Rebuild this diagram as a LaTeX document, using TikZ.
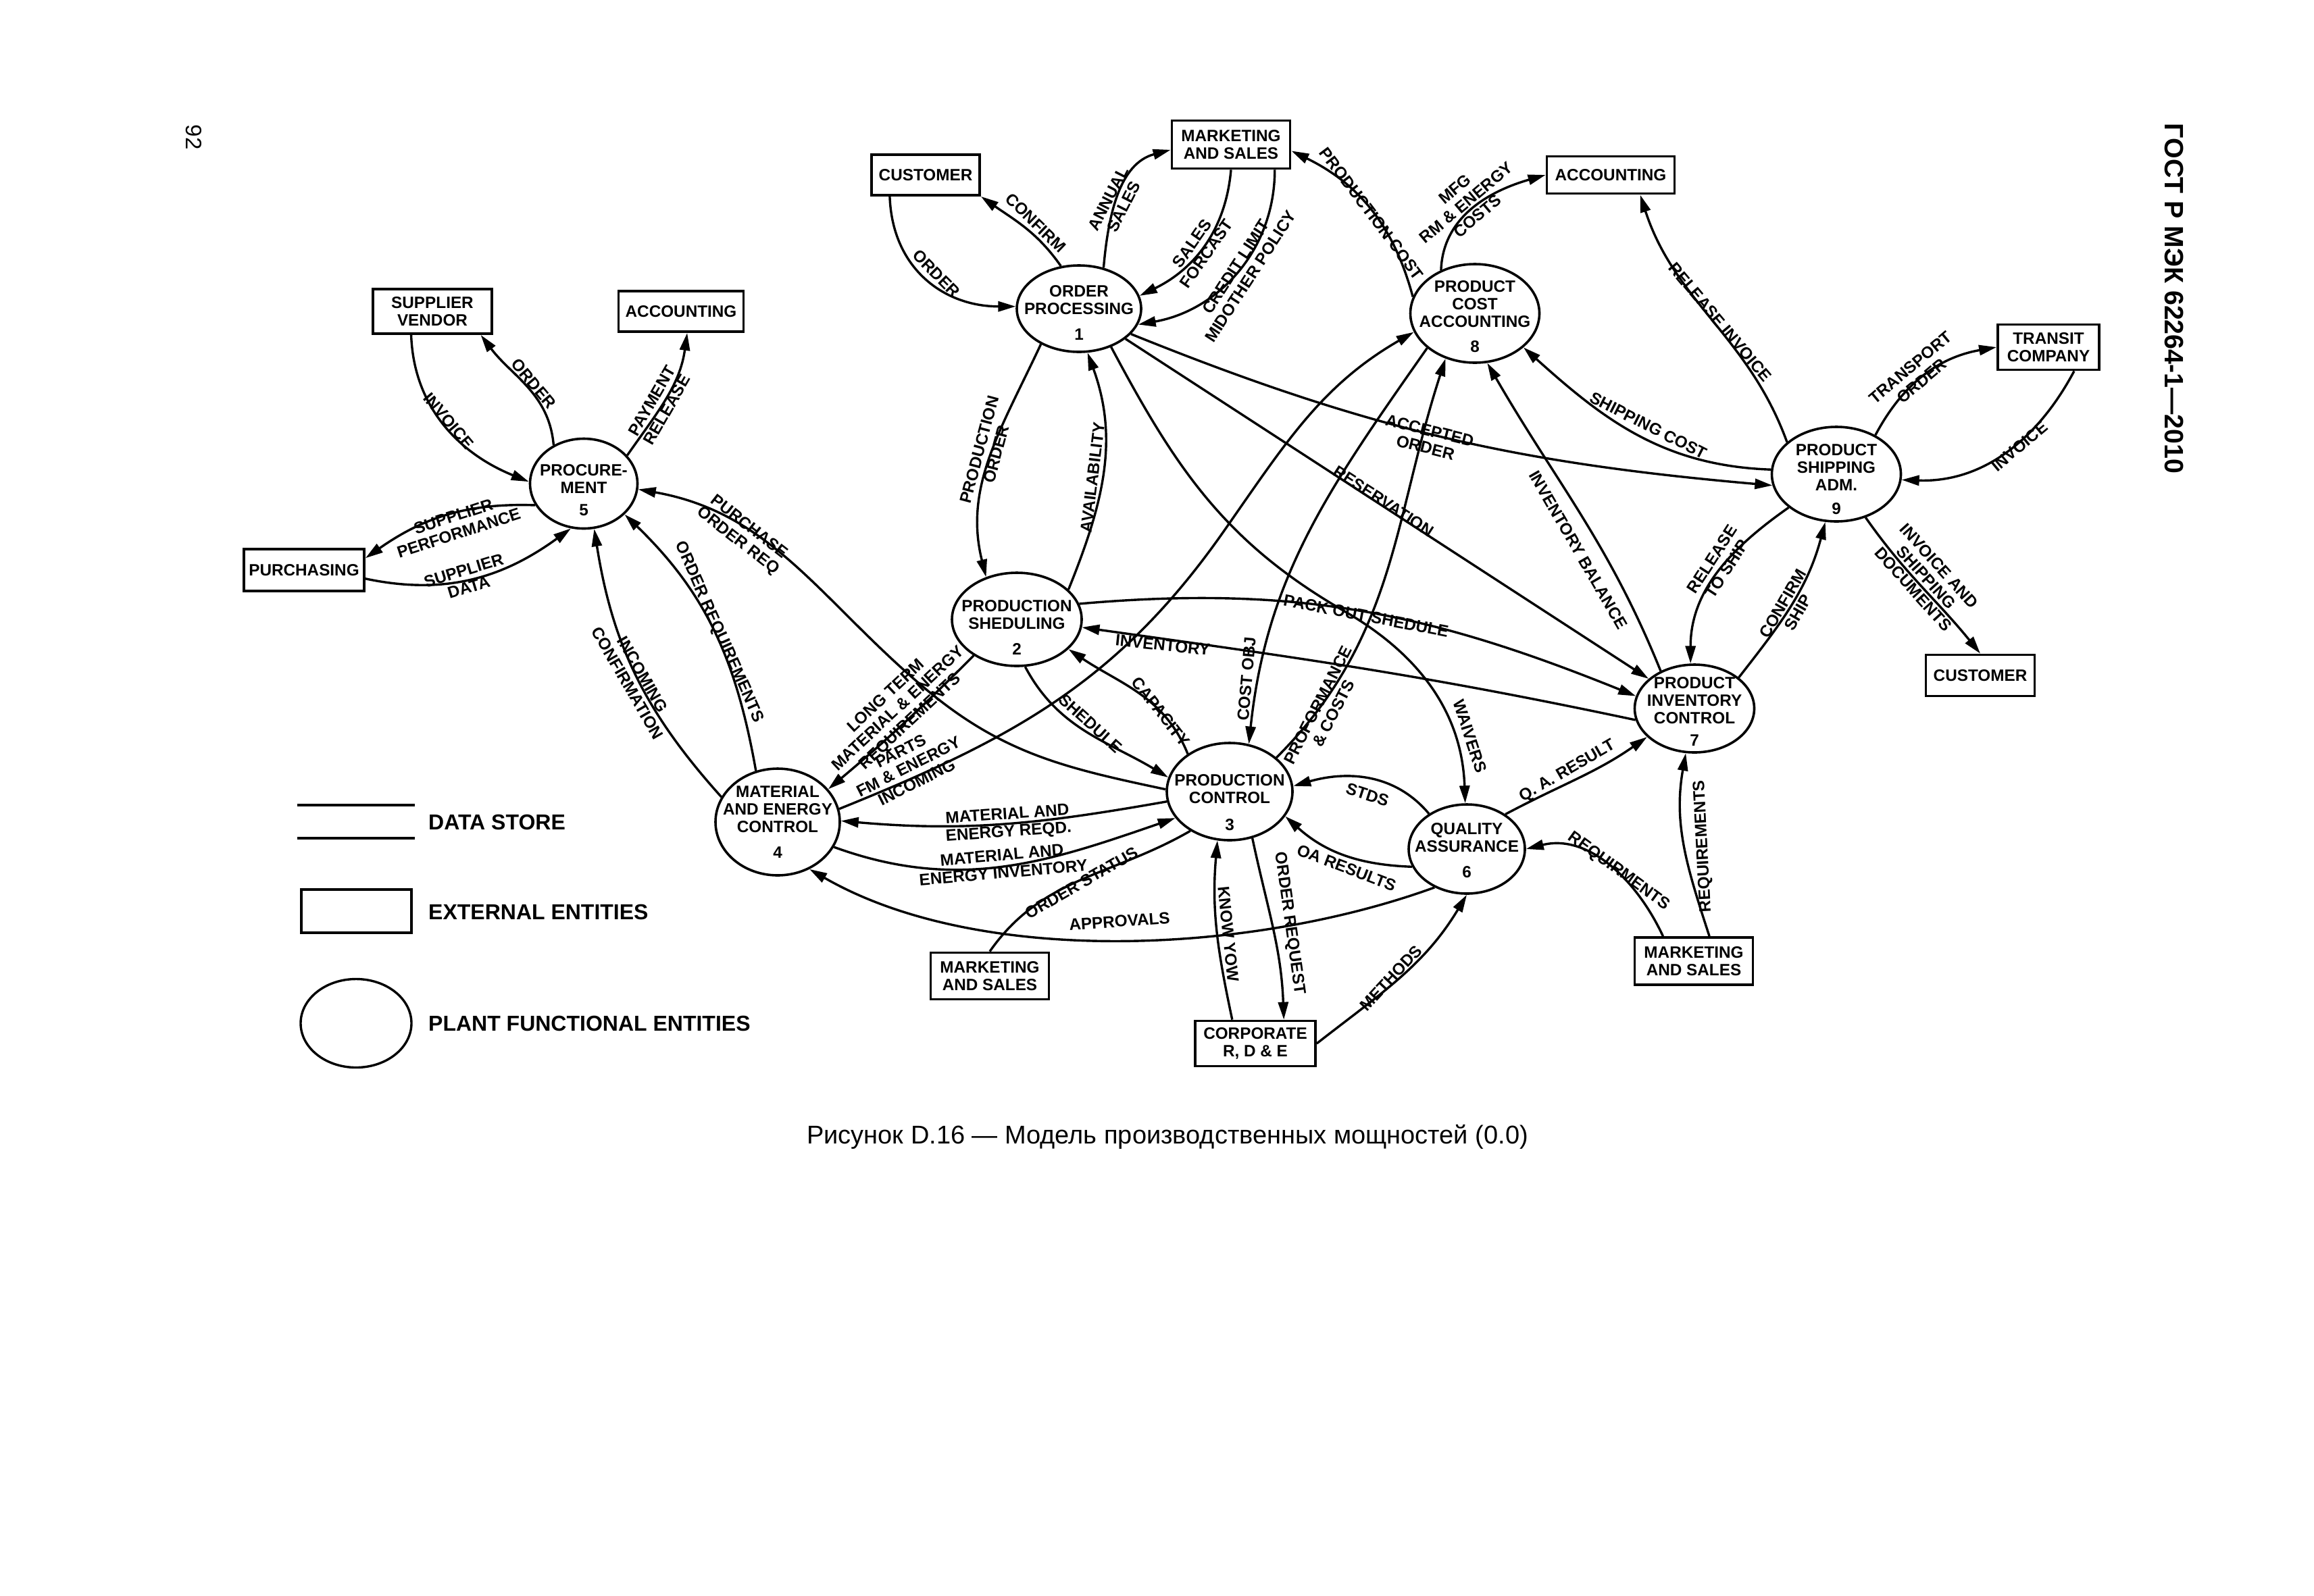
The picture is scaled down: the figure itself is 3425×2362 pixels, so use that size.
\documentclass[tikz,border=0pt]{standalone}
\usepackage{fontspec}
\setmainfont{Liberation Sans}
\usetikzlibrary{shapes.geometric, arrows.meta}

\newcommand{\dfdfont}{\fontsize{24.3}{26}\selectfont\bfseries}
\newcommand{\legfont}{\fontsize{32}{36}\selectfont\bfseries}
\newcommand{\hdrfont}{\fontsize{39.3}{42}\selectfont\bfseries}
\newcommand{\capfont}{\fontsize{38}{42}\selectfont}
\newcommand{\pgnofont}{\fontsize{33}{36}\selectfont}

\tikzset{
  proc/.style={ellipse, draw, line width=3.6pt, inner sep=0pt},
  ptext/.style={font=\dfdfont, align=center, inner sep=0pt},
  ext/.style={rectangle, draw, line width=3.8pt, inner sep=0pt, align=center, font=\dfdfont},
  flow/.style={line width=3.4pt, -{Triangle[length=26pt,width=15pt]}},
  link/.style={line width=3.4pt},
  lbl/.style={font=\dfdfont, align=center, inner sep=0pt},
  legtext/.style={font=\legfont, anchor=west, inner sep=0pt},
}

\begin{document}
\begin{tikzpicture}[x=1pt, y=-1pt]
    \path[use as bounding box, fill=white] (0,0) rectangle (3425,2362);

    % external entities
    \node[ext, minimum width=160pt, minimum height=60pt] (custA) at (1370,259) {CUSTOMER};
    \node[ext, minimum width=175pt, minimum height=71pt] (mktA) at (1822,214) {MARKETING\\AND SALES};
    \node[ext, minimum width=189pt, minimum height=55pt] (accA) at (2384,259) {ACCOUNTING};
    \node[ext, minimum width=176pt, minimum height=66pt] (supp) at (640,461) {SUPPLIER\\VENDOR};
    \node[ext, minimum width=185pt, minimum height=60pt] (accB) at (1008,461) {ACCOUNTING};
    \node[ext, minimum width=178pt, minimum height=62pt] (purch) at (450,844) {PURCHASING};
    \node[ext, minimum width=150pt, minimum height=67pt] (transit) at (3032,514) {TRANSIT\\COMPANY};
    \node[ext, minimum width=161pt, minimum height=61pt] (custB) at (2931,1000) {CUSTOMER};
    \node[ext, minimum width=175pt, minimum height=69pt] (mktB) at (1465,1445) {MARKETING\\AND SALES};
    \node[ext, minimum width=178pt, minimum height=67pt] (corp) at (1858,1545) {CORPORATE\\R, D \& E};
    \node[ext, minimum width=175pt, minimum height=70pt] (mktC) at (2507,1423) {MARKETING\\AND SALES};

    % plant functional entities
    \node[proc, minimum width=184pt, minimum height=128pt, label={[ptext,yshift=-6pt]center:{ORDER\\PROCESSING\\[12pt]1}}] (p1) at (1597,457) {};
    \node[proc, minimum width=192pt, minimum height=138pt, label={[ptext,yshift=-12pt]center:{PRODUCTION\\SHEDULING\\[12pt]2}}] (p2) at (1505,917) {};
    \node[proc, minimum width=186pt, minimum height=144pt, label={[ptext,yshift=-16pt]center:{PRODUCTION\\CONTROL\\[14pt]3}}] (p3) at (1820,1172) {};
    \node[proc, minimum width=184pt, minimum height=158pt, label={[ptext]center:{MATERIAL\\AND ENERGY\\CONTROL\\[12pt]4}}] (p4) at (1151,1217) {};
    \node[proc, minimum width=159pt, minimum height=133pt, label={[ptext,yshift=-10pt]center:{PROCURE-\\MENT\\[7pt]5}}] (p5) at (864,716) {};
    \node[proc, minimum width=172pt, minimum height=132pt, label={[ptext,yshift=-2pt]center:{QUALITY\\ASSURANCE\\[12pt]6}}] (p6) at (2171,1257) {};
    \node[proc, minimum width=177pt, minimum height=130pt, label={[ptext,yshift=-4pt]center:{PRODUCT\\INVENTORY\\CONTROL\\[7pt]7}}] (p7) at (2508,1049) {};
    \node[proc, minimum width=191pt, minimum height=146pt, label={[ptext,yshift=-5pt]center:{PRODUCT\\COST\\ACCOUNTING\\[11pt]8}}] (p8) at (2183,464) {};
    \node[proc, minimum width=191pt, minimum height=140pt, label={[ptext,yshift=-8pt]center:{PRODUCT\\SHIPPING\\ADM.\\[9pt]9}}] (p9) at (2718,702) {};

    % order processing
    \draw[flow] (custA.211) to[out=-88, in=180, looseness=1.1] (p1.178)
        node[lbl, rotate=-45] (tOrdA) at (1386,405) {ORDER};
    \draw[flow] (p1.113) to[out=125, in=-35] (custA.south east)
        node[lbl, rotate=-44] (tConf) at (1533,330) {CONFIRM};
    \draw[flow] (p1.59) to[out=85, in=195] (mktA.185)
        node[lbl, rotate=63] (tAnn) at (1652,300) {ANNUAL\\SALES};
    \draw[flow] (mktA.south) to[out=-95, in=26] (p1.12)
        node[lbl, rotate=55] (tFcst) at (1775,368) {SALES\\FORCAST};
    \draw[flow] (mktA.-30) to[out=-90, in=10] (p1.-15)
        node[lbl, rotate=57] (tCred) at (1840,402) {CREDIT LIMIT\\MIDOTHER POLICY};

    % cost accounting and shipping
    \draw[flow] (p8.165) to[out=105, in=-26] (mktA.-6)
        node[lbl, rotate=-53] (tPCost) at (2030,316) {PRODUCTION COST};
    \draw[flow] (p8.128) to[out=88, in=196] (accA.west)
        node[lbl, rotate=40] (tMfg) at (2170,300) {MFG\\RM \& ENERGY\\COSTS};
    \draw[flow] (p9.147) to[out=110, in=-72] (accA.-34)
        node[lbl, rotate=-50] (tRelInv) at (2546,477) {RELEASE INVOICE};
    \draw[flow] (p9.45) to[out=62, in=190] (transit.west)
        node[lbl, rotate=40] (tTrans) at (2836,554) {TRANSPORT\\ORDER};
    \draw[flow] (transit.-43) to[out=-118, in=-2] (p9.-5)
        node[lbl, rotate=40] (tInvB) at (2989,661) {INVOICE};
    \draw[flow] (p9.-56) to[out=-55, in=129] (custB.north)
        node[lbl, rotate=-48] (tDocs) at (2851,855) {INVOICE AND\\SHIPPING\\DOCUMENTS};

    % procurement
    \draw[flow] (supp.228) to[out=-88, in=158] (p5.178)
        node[lbl, rotate=-50] (tInvA) at (664,623) {INVOICE};
    \draw[flow] (p5.128) to[out=95, in=-53] (supp.-26)
        node[lbl, rotate=-50] (tOrdB) at (790,568) {ORDER};
    \draw[flow] (p5.33) to[out=55, in=-98] (accB.-74)
        node[lbl, rotate=60] (tPay) at (976,600) {PAYMENT\\RELEASE};
    \draw[flow] (p5.204) to[out=178, in=35] (purch.11)
        node[lbl, rotate=18] (tPerf) at (675,777) {SUPPLIER\\PERFORMANCE};
    \draw[flow] (purch.-8) to[out=-12, in=216] (p5.254)
        node[lbl, rotate=17] (tData) at (690,857) {SUPPLIER\\DATA};
    \draw[flow] (p4.156) to[out=132, in=-81] (p5.-77)
        node[lbl, rotate=-60] (tIncConf) at (940,1005) {INCOMING\\CONFIRMATION};
    \draw[flow] (p4.113) to[out=100, in=-44] (p5.-37)
        node[lbl, rotate=-66] (tOrdReq) at (1064,936) {ORDER REQUIREMENTS};
    \draw[flow] (p3.178) to[out=168, in=-40] (1370,1020) to[out=140, in=-10] (p5.-6)
        node[lbl, rotate=-38] (tPurch) at (1100,791) {PURCHASE\\ORDER REQ};

    % scheduling and inventory
    \draw[flow] (p1.223) to[out=245, in=104] (p2.126)
        node[lbl, rotate=75] (tProdOrd) at (1462,669) {PRODUCTION\\ORDER};
    \draw[flow] (p2.30) to[out=68, in=-70] (p1.-79)
        node[lbl, rotate=83] (tAvail) at (1617,707) {AVAILABILITY};
    \draw[flow] (p1.-33) -- (p7.147)
        node[lbl, rotate=-33] (tRes) at (2048,742) {RESERVATION};
    \draw[flow] (p1.-26) to[out=-22, in=175] (p9.190)
        node[lbl, rotate=-14] (tAcc) at (2113,650) {ACCEPTED\\ORDER};
    \draw[flow] (p1.-50) to[out=-62, in=150] (1990,905) to[out=-30, in=92] (p6.92)
        node[lbl, rotate=-72] (tWaiv) at (2176,1090) {WAIVERS};
    \draw[flow] (p2.14) to[out=5, in=158] (p7.168)
        node[lbl, rotate=-11] (tPack) at (2022,912) {PACK OUT SHEDULE};
    \draw[flow] (p7.191) to[out=168, in=-8] (p2.-7)
        node[lbl, rotate=-6] (tInv) at (1721,955) {INVENTORY};
    \draw[flow] (p7.132) to[out=112, in=-60] (p8.-76)
        node[lbl, rotate=-60] (tInvBal) at (2336,814) {INVENTORY BALANCE};
    \draw[flow] (p9.176) to[out=178, in=-42] (p8.-35)
        node[lbl, rotate=-27] (tShip) at (2440,630) {SHIPPING COST};
    \draw[flow] (p9.215) to[out=215, in=90] (p7.95)
        node[lbl, rotate=57] (tRel) at (2545,835) {RELEASE\\TO SHIP};
    \draw[flow] (p7.35) to[out=52, in=-105] (p9.257)
        node[lbl, rotate=60] (tConfShip) at (2650,900) {CONFIRM\\SHIP};

    % production control
    \draw[flow] (p8.216) to[out=235, in=84] (p3.68)
        node[lbl, rotate=85] (tCostObj) at (1845,1005) {COST OBJ};
    \draw[flow] (p3.36) to[out=45, in=-108] (p8.237)
        node[lbl, rotate=63] (tProf) at (1962,1050) {PROFORMANCE\\\& COSTS};
    \draw[flow] (p2.-80) to[out=-62, in=149] (p3.167)
        node[lbl, rotate=-42] (tShed) at (1614,1071) {SHEDULE};
    \draw[flow] (p3.138) to[out=112, in=-34] (p2.-30)
        node[lbl, rotate=-52] (tCap) at (1718,1054) {CAPACITY};
    \draw[flow] (p2.220) to[out=225, in=40] (p4.33)
        node[lbl, rotate=43] (tLong) at (1330,1050) {LONG TERM\\MATERIAL \& ENERGY\\REQUIREMENTS};
    \draw[flow] (p4.12) to[out=22, in=235] (1811,787) to[out=55, in=210] (p8.197)
        node[lbl, rotate=27] (tParts) at (1345,1135) {PARTS\\FM \& ENERGY\\INCOMING};
    \draw[flow] (p3.189) to[out=190, in=-5] (p4.1)
        node[lbl, rotate=4] (tMatReq) at (1492,1220) {MATERIAL AND\\ENERGY REQD.};
    \draw[flow] (p4.-24) to[out=-20, in=199] (p3.206)
        node[lbl, rotate=5] (tMatInv) at (1484,1279) {MATERIAL AND\\ENERGY INVENTORY};
    \draw[link] (mktB.north) to[out=55, in=210] (p3.225)
        node[lbl, rotate=30] (tStat) at (1601,1307) {ORDER STATUS};
    \draw[flow] (p6.230) to[out=200, in=-30, looseness=0.8] (p4.-56)
        node[lbl, rotate=4] (tAppr) at (1657,1364) {APPROVALS};
    \draw[flow] (corp.134) to[out=102, in=-95] (p3.256)
        node[lbl, rotate=-84] (tKnow) at (1818,1383) {KNOW YOW};
    \draw[flow] (p3.-64) to[out=-78, in=92] (corp.40)
        node[lbl, rotate=-82] (tOrdRq) at (1908,1367) {ORDER REQUEST};

    % quality assurance
    \draw[flow] (corp.east) to[out=38, in=-121] (p6.-90)
        node[lbl, rotate=47] (tMeth) at (2059,1448) {METHODS};
    \draw[flow] (p6.137) to[out=130, in=16] (p3.5)
        node[lbl, rotate=-18] (tStds) at (2024,1177) {STDS};
    \draw[flow] (p6.198) to[out=178, in=-42] (p3.-24)
        node[lbl, rotate=-21] (tOA) at (1993,1285) {OA RESULTS};
    \draw[flow] (p6.42) to[out=28, in=215] (p7.211)
        node[lbl, rotate=30] (tQA) at (2320,1142) {Q. A. RESULT};
    \draw[flow] (mktC.141) to[out=115, in=14] (p6.0)
        node[lbl, rotate=-36] (tReqA) at (2396,1290) {REQUIRMENTS};
    \draw[flow] (mktC.58) to[out=108, in=-100] (p7.259)
        node[lbl, rotate=93] (tReqB) at (2521,1253) {REQUIREMENTS};

    % legend
    \draw[line width=3.6pt] (440,1192) -- (614,1192);
    \draw[line width=3.6pt] (440,1241) -- (614,1241);
    \draw[line width=3.6pt] (446,1317) rectangle (609,1381);
    \draw[line width=3.4pt] (527,1515) ellipse [x radius=82, y radius=65.5];
    \node[legtext] (legStore) at (634,1217) {DATA STORE};
    \node[legtext] (legExt) at (634,1350) {EXTERNAL ENTITIES};
    \node[legtext] (legProc) at (634,1515) {PLANT FUNCTIONAL ENTITIES};

    % page furniture
    \node[font=\hdrfont, rotate=-90, inner sep=0pt] (hdr) at (3218,442) {ГОСТ Р МЭК 62264-1—2010};
    \node[font=\pgnofont, rotate=-90, inner sep=0pt] (pgno) at (287,203) {92};
    \node[font=\capfont, inner sep=0pt] (cap) at (1728,1683) {Рисунок D.16 — Модель производственных мощностей (0.0)};
\end{tikzpicture}
\end{document}
